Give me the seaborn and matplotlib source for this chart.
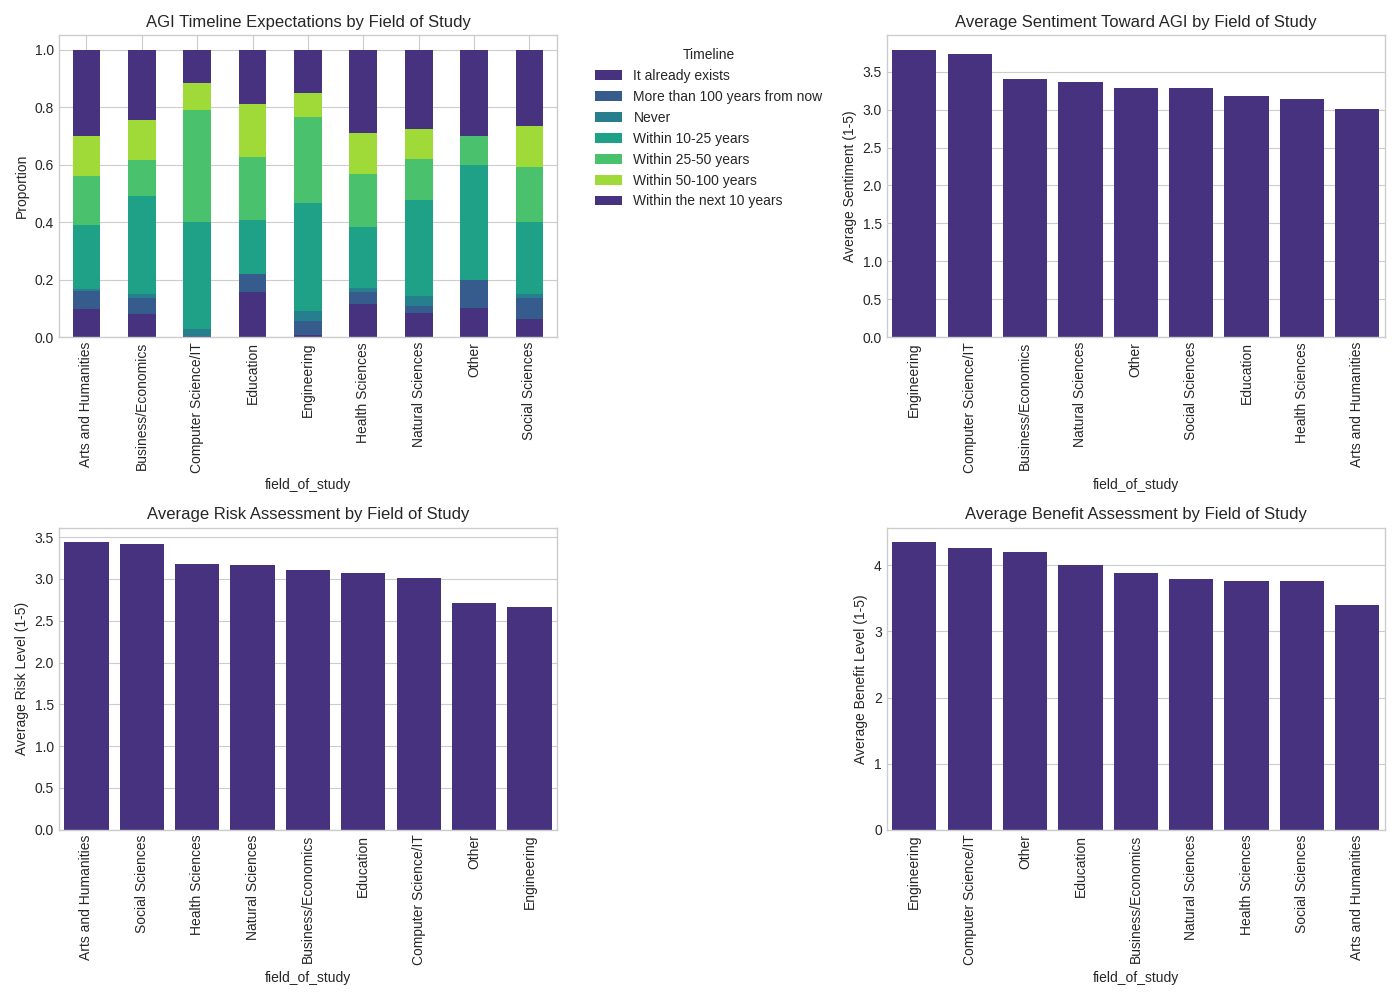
import numpy as np
import pandas as pd
import matplotlib
matplotlib.use("Agg")
import matplotlib.pyplot as plt
import seaborn as sns

plt.style.use('seaborn-v0_8-whitegrid')
sns.set_palette('viridis')
plt.rcParams['font.family'] = ['Liberation Sans', 'DejaVu Sans']

fields = ['Arts and Humanities', 'Business/Economics', 'Computer Science/IT', 'Education',
          'Engineering', 'Health Sciences', 'Natural Sciences', 'Other', 'Social Sciences']
timelines = ['It already exists', 'More than 100 years from now', 'Never', 'Within 10-25 years',
             'Within 25-50 years', 'Within 50-100 years', 'Within the next 10 years']
# cumulative tops (bottom to top, last = 1.0)
cum = {
    'Arts and Humanities': [0.097, 0.159, 0.167, 0.390, 0.560, 0.700],
    'Business/Economics': [0.079, 0.138, 0.152, 0.491, 0.616, 0.756],
    'Computer Science/IT': [0.0, 0.003, 0.027, 0.400, 0.791, 0.885],
    'Education': [0.156, 0.219, 0.219, 0.407, 0.627, 0.812],
    'Engineering': [0.006, 0.058, 0.090, 0.466, 0.766, 0.850],
    'Health Sciences': [0.117, 0.156, 0.170, 0.383, 0.567, 0.710],
    'Natural Sciences': [0.083, 0.110, 0.145, 0.477, 0.620, 0.724],
    'Other': [0.100, 0.198, 0.198, 0.599, 0.700, 0.700],
    'Social Sciences': [0.062, 0.135, 0.149, 0.400, 0.592, 0.735],
}

sent_fields = ['Engineering', 'Computer Science/IT', 'Business/Economics', 'Natural Sciences', 'Other',
               'Social Sciences', 'Education', 'Health Sciences', 'Arts and Humanities']
sent_vals = [3.79, 3.74, 3.40, 3.37, 3.29, 3.28, 3.18, 3.14, 3.01]
risk_fields = ['Arts and Humanities', 'Social Sciences', 'Health Sciences', 'Natural Sciences',
               'Business/Economics', 'Education', 'Computer Science/IT', 'Other', 'Engineering']
risk_vals = [3.44, 3.42, 3.18, 3.17, 3.11, 3.07, 3.01, 2.71, 2.66]
ben_fields = ['Engineering', 'Computer Science/IT', 'Other', 'Education', 'Business/Economics',
              'Natural Sciences', 'Health Sciences', 'Social Sciences', 'Arts and Humanities']
ben_vals = [4.35, 4.26, 4.20, 4.00, 3.88, 3.79, 3.77, 3.77, 3.40]

rows = []
for f in fields:
    c = [0.0] + cum[f] + [1.0]
    rows.append(np.diff(c))
props = pd.DataFrame(rows, index=pd.Index(fields, name='field_of_study'), columns=timelines)

fig, axes = plt.subplots(2, 2, figsize=(14, 10))
props.plot(kind='bar', stacked=True, ax=axes[0, 0])
axes[0, 0].set_title('AGI Timeline Expectations by Field of Study', fontsize=12)
axes[0, 0].set_ylabel('Proportion')
axes[0, 0].legend(title='Timeline', bbox_to_anchor=(1.05, 1), loc='upper left')

col = sns.color_palette('viridis')[0]
for ax, fl, vals, title, ylab in [
        (axes[0, 1], sent_fields, sent_vals, 'Average Sentiment Toward AGI by Field of Study', 'Average Sentiment (1-5)'),
        (axes[1, 0], risk_fields, risk_vals, 'Average Risk Assessment by Field of Study', 'Average Risk Level (1-5)'),
        (axes[1, 1], ben_fields, ben_vals, 'Average Benefit Assessment by Field of Study', 'Average Benefit Level (1-5)')]:
    df = pd.DataFrame({'field_of_study': fl, 'v': vals})
    sns.barplot(data=df, x='field_of_study', y='v', color=col, saturation=1, ax=ax)
    ax.set_title(title, fontsize=12)
    ax.set_ylabel(ylab)

for ax in axes.flat:
    ax.tick_params(axis='x', rotation=90)
    for s in ax.spines.values():
        s.set_visible(True)
        s.set_color('#cccccc')

plt.tight_layout()
plt.savefig('out.png', dpi=100)
